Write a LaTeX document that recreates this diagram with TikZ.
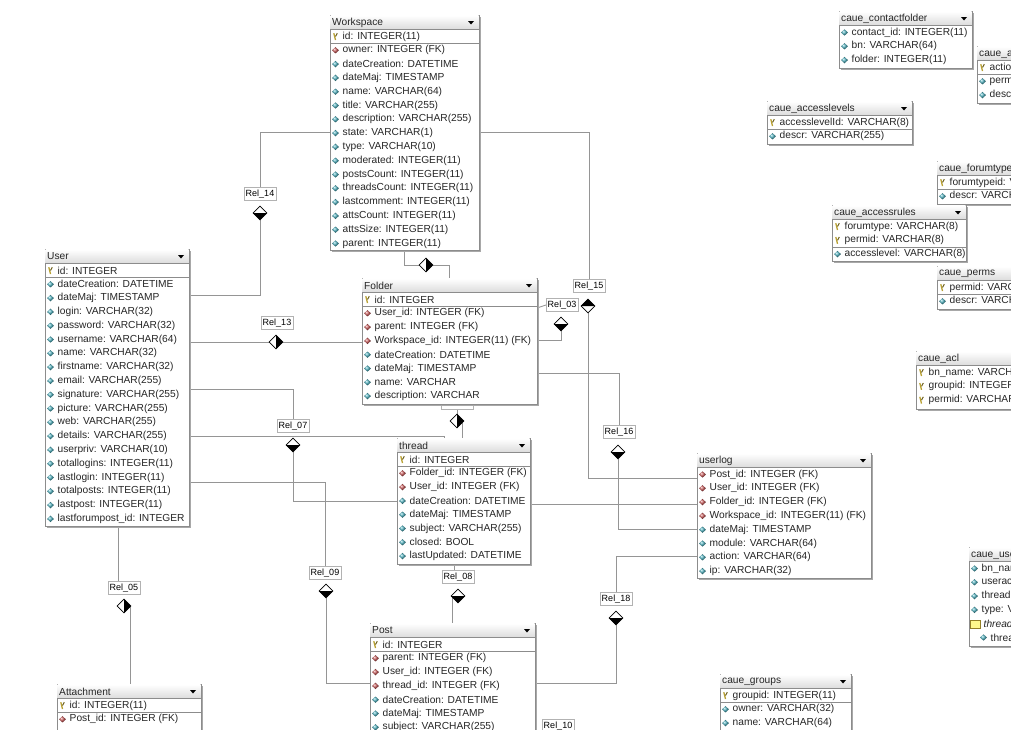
\documentclass[tikz,border=0pt]{standalone}
\usepackage{fontspec}
\setmainfont{Liberation Sans}
\usetikzlibrary{shapes.geometric}

\pgfdeclarelayer{background}
\pgfsetlayers{background,main}

\definecolor{framegray}{HTML}{8C8C8C}
\definecolor{shadegray}{HTML}{A8A8A8}
\definecolor{linkgray}{HTML}{959595}
\definecolor{fkred}{HTML}{C85A5A}
\definecolor{attcyan}{HTML}{4FB0BE}
\definecolor{keyolive}{HTML}{B8A030}

\tikzset{
  tabframe/.style={draw=framegray, fill=white, line width=0.8pt, inner sep=0pt, outer sep=0pt, anchor=north west},
  rowtext/.style={font=\fontsize{10.2}{12}\selectfont, text=black!85, inner sep=0pt, anchor=west},
  link/.style={draw=linkgray, line width=0.9pt},
  rel/.style={draw=gray!60, fill=white, font=\fontsize{9}{10}\selectfont, inner xsep=1.5pt, inner ysep=0pt, minimum height=13pt},
  reldia/.style={diamond, draw=black, fill=white, line width=0.7pt, inner sep=0pt, minimum width=14pt, minimum height=14pt},
  lowblack/.style={reldia, path picture={\fill[black] (path picture bounding box.west) -- (path picture bounding box.east) -- (path picture bounding box.south) -- cycle;}},
  highblack/.style={reldia, path picture={\fill[black] (path picture bounding box.west) -- (path picture bounding box.east) -- (path picture bounding box.north) -- cycle;}},
  rightblack/.style={reldia, path picture={\fill[black] (path picture bounding box.north) -- (path picture bounding box.south) -- (path picture bounding box.east) -- cycle;}},
  icon-a/.style={diamond, inner sep=0pt, minimum width=7pt, minimum height=6.5pt, ball color=attcyan},
  icon-f/.style={diamond, inner sep=0pt, minimum width=7pt, minimum height=6.5pt, ball color=fkred},
  icon-k/.style={inner sep=0pt, minimum width=6pt, minimum height=9pt,
    path picture={
      \draw[keyolive, line width=1.3pt] ([xshift=1.3pt,yshift=-1.2pt]path picture bounding box.north west) -- ([yshift=1pt]path picture bounding box.south);
      \draw[keyolive!60!black, line width=1pt] ([xshift=-1.2pt,yshift=-1.2pt]path picture bounding box.north east) -- (path picture bounding box.center);}},
  icon-i/.style={draw=keyolive!80!black, fill=yellow!45, inner sep=0pt, minimum width=10pt, minimum height=8pt, xshift=1pt},
  icon-s/.style={icon-a, xshift=9pt},
  text-a/.style={}, text-f/.style={}, text-k/.style={},
  text-i/.style={font=\fontsize{10.2}{12}\selectfont\itshape, xshift=2pt},
  text-s/.style={xshift=9pt}
}

% name, left, top, right, bottom, key rows, title, rows
\newcommand{\dbtable}[8]{%
  \fill[shadegray] ({#2+2},{#3+2}) rectangle ({#4+2},{#5+2});
  \node[tabframe, minimum width={#4-#2}, minimum height={#5-#3}] (#1) at (#2,#3) {};
  \shade[top color=white, bottom color=gray!28] ({#2+0.5},{#3+0.5}) rectangle ({#4-0.5},{#3+14.5});
  \draw[framegray] (#2,{#3+14.5}) -- (#4,{#3+14.5});
  \node[rowtext] (#1-title) at ({#2+2},{#3+7.5}) {#7};
  \fill ({#4-11},{#3+6}) -- ({#4-5},{#3+6}) -- ({#4-8},{#3+9.5}) -- cycle;
  \ifnum#6>0 \draw[framegray] (#2,{#3+21.5+(#6-0.5)*13.8}) -- (#4,{#3+21.5+(#6-0.5)*13.8});\fi
  \foreach \rt/\rs [count=\ri from 0] in {#8}{%
    \pgfmathsetmacro\yy{#3+21.5+\ri*13.8}
    \node[icon-\rt] at ({#2+5.5},\yy) {};
    \node[rowtext, text-\rt] (#1-\ri) at ({#2+12.5},\yy) {\rs};
  }%
}

\begin{document}
\begin{tikzpicture}[x=1pt,y=-1pt]
\useasboundingbox (0,0) rectangle (1011,729);
\begin{pgfonlayer}{background}
\fill[white] (0,0) rectangle (1011,729);
\end{pgfonlayer}

% label box hidden under Folder
\node[rel, minimum width=32pt] (r02) at (457,402.5) {};

% tables
\dbtable{workspace}{330}{15}{479}{250}{1}{Workspace}{k/id: INTEGER(11), f/owner: INTEGER (FK), a/dateCreation: DATETIME, a/dateMaj: TIMESTAMP, a/name: VARCHAR(64), a/title: VARCHAR(255), a/description: VARCHAR(255), a/state: VARCHAR(1), a/type: VARCHAR(10), a/moderated: INTEGER(11), a/postsCount: INTEGER(11), a/threadsCount: INTEGER(11), a/lastcomment: INTEGER(11), a/attsCount: INTEGER(11), a/attsSize: INTEGER(11), a/parent: INTEGER(11)}
\dbtable{user}{45}{249}{189}{526}{1}{User}{k/id: INTEGER, a/dateCreation: DATETIME, a/dateMaj: TIMESTAMP, a/login: VARCHAR(32), a/password: VARCHAR(32), a/username: VARCHAR(64), a/name: VARCHAR(32), a/firstname: VARCHAR(32), a/email: VARCHAR(255), a/signature: VARCHAR(255), a/picture: VARCHAR(255), a/web: VARCHAR(255), a/details: VARCHAR(255), a/userpriv: VARCHAR(10), a/totallogins: INTEGER(11), a/lastlogin: INTEGER(11), a/totalposts: INTEGER(11), a/lastpost: INTEGER(11), a/lastforumpost\_id: INTEGER}
\dbtable{folder}{362}{278}{537}{404}{1}{Folder}{k/id: INTEGER, f/User\_id: INTEGER (FK), f/parent: INTEGER (FK), f/Workspace\_id: INTEGER(11) (FK), a/dateCreation: DATETIME, a/dateMaj: TIMESTAMP, a/name: VARCHAR, a/description: VARCHAR}
\dbtable{thread}{397}{438}{530}{564}{1}{thread}{k/id: INTEGER, f/Folder\_id: INTEGER (FK), f/User\_id: INTEGER (FK), a/dateCreation: DATETIME, a/dateMaj: TIMESTAMP, a/subject: VARCHAR(255), a/closed: BOOL, a/lastUpdated: DATETIME}
\dbtable{userlog}{697}{453}{871}{578}{0}{userlog}{f/Post\_id: INTEGER (FK), f/User\_id: INTEGER (FK), f/Folder\_id: INTEGER (FK), f/Workspace\_id: INTEGER(11) (FK), a/dateMaj: TIMESTAMP, a/module: VARCHAR(64), a/action: VARCHAR(64), a/ip: VARCHAR(32)}
\dbtable{post}{370}{623}{535}{745}{1}{Post}{k/id: INTEGER, f/parent: INTEGER (FK), f/User\_id: INTEGER (FK), f/thread\_id: INTEGER (FK), a/dateCreation: DATETIME, a/dateMaj: TIMESTAMP, a/subject: VARCHAR(255)}
\dbtable{attachment}{57}{684}{201}{745}{1}{Attachment}{k/id: INTEGER(11), f/Post\_id: INTEGER (FK)}
\dbtable{contactfolder}{839}{11}{972}{68}{0}{caue\_contactfolder}{a/contact\_id: INTEGER(11), a/bn: VARCHAR(64), a/folder: INTEGER(11)}
\dbtable{actions}{977}{46}{1120}{103}{1}{caue\_actions}{k/actionid: VARCHAR(8), a/permid: VARCHAR(8), a/descr: VARCHAR(255)}
\dbtable{accesslevels}{767}{101}{912}{144}{1}{caue\_accesslevels}{k/accesslevelId: VARCHAR(8), a/descr: VARCHAR(255)}
\dbtable{forumtypes}{937}{161}{1100}{204}{1}{caue\_forumtypes}{k/forumtypeid: VARCHAR(8), a/descr: VARCHAR(255)}
\dbtable{accessrules}{832}{205}{966}{261}{2}{caue\_accessrules}{k/forumtype: VARCHAR(8), k/permid: VARCHAR(8), a/accesslevel: VARCHAR(8)}
\dbtable{perms}{937}{266}{1100}{309}{1}{caue\_perms}{k/permid: VARCHAR(8), a/descr: VARCHAR(255)}
\dbtable{acl}{916}{351}{1100}{409}{0}{caue\_acl}{k/bn\_name: VARCHAR(64), k/groupid: INTEGER(11), k/permid: VARCHAR(8)}
\dbtable{userthreads}{969}{547}{1120}{646}{0}{caue\_userthreads}{a/bn\_name: VARCHAR(64), a/useraccess: VARCHAR(8), a/threadid: INTEGER(11), a/type: VARCHAR(8), i/threadid, s/threadid}
\dbtable{groups}{720}{674}{851}{745}{1}{caue\_groups}{k/groupid: INTEGER(11), a/owner: VARCHAR(32), a/name: VARCHAR(64)}

% relation labels
\node[rel] (r14) at (260,194) {Rel\_14};
\node[rel] (r13) at (277,323) {Rel\_13};
\node[rel] (r07) at (293,426) {Rel\_07};
\node[rel] (r09) at (325,573) {Rel\_09};
\node[rel] (r05) at (124,588) {Rel\_05};
\node[rel] (r15) at (589,286) {Rel\_15};
\node[rel] (r03) at (562,305) {Rel\_03};
\node[rel] (r16) at (619,432) {Rel\_16};
\node[rel] (r08) at (458,577) {Rel\_08};
\node[rel] (r18) at (616,599) {Rel\_18};
\node[rel] (r10) at (558,726) {Rel\_10};

% relation diamonds
\node[lowblack] (d14) at (260,213) {};
\node[rightblack] (d13) at (276,342) {};
\node[lowblack] (d07) at (293,445) {};
\node[lowblack] (d09) at (326,591) {};
\node[rightblack] (d05) at (124,606) {};
\node[highblack] (d15) at (588,306) {};
\node[lowblack] (d03) at (561,324) {};
\node[lowblack] (d16) at (618,452) {};
\node[lowblack] (d08) at (458,596) {};
\node[lowblack] (d18) at (616,618) {};
\node[rightblack] (dwf) at (426,265) {};
\node[rightblack] (dft) at (457,421) {};

% connectors
\begin{pgfonlayer}{background}
\draw[link] (workspace.west |- 0,132) -| (r14.north);
\draw[link] (d14) |- (user.east |- 0,295);
\draw[link] (user.east |- 0,342) -- (folder.west |- 0,342);
\draw[link] (user.east |- 0,389) -| (r07.north);
\draw[link] (d07) |- (thread.west |- 0,501);
\draw[link] (user.east |- 0,436) -| (thread.north -| 444,0);
\draw[link] (user.east |- 0,482) -| (r09.north);
\draw[link] (d09) |- (post.west |- 0,683);
\draw[link] (user.south -| 118,0) -- (r05.north -| 118,0);
\draw[link] ([xshift=-1pt]d05.east) -- ([xshift=-1pt]d05.east |- attachment.north);
\draw[link] (workspace.south -| 404,0) |- (dwf);
\draw[link] (dwf) -| (folder.north -| 449,0);
\draw[link] (r02) -- (dft);
\draw[link] ([xshift=5pt]dft.center) -- ([xshift=5pt]dft.center |- thread.north);
\draw[link] (d03) |- (folder.east |- 0,340);
\draw[link] (folder.east |- 0,308) -- (r03.west);
\draw[link] (workspace.east |- 0,132) -| (r15.north);
\draw[link] (d15) |- (userlog.west |- 0,478);
\draw[link] (folder.east |- 0,373) -| (r16.north);
\draw[link] (d16) |- (userlog.west |- 0,529);
\draw[link] (thread.east |- 0,504) -- (userlog.west |- 0,504);
\draw[link] (userlog.west |- 0,556) -| (r18.north);
\draw[link] (d18) |- (post.east |- 0,683);
\draw[link] ([xshift=-4pt]r08.north |- thread.south) -- ([xshift=-4pt]r08.north);
\draw[link] ([xshift=-6pt]d08.center) -- ([xshift=-6pt]d08.center |- post.north);
\end{pgfonlayer}
\end{tikzpicture}
\end{document}
